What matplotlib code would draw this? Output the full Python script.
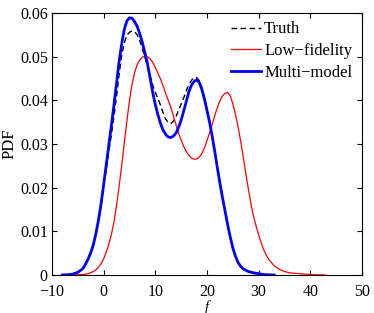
import numpy as np
import matplotlib
matplotlib.use('Agg')
import matplotlib.pyplot as plt

plt.rcParams['font.family'] = ['Liberation Serif', 'DejaVu Serif']

# values, half-unit steps in the busy part
x_truth = [-8, -7, -6, -5, -4, -3.5, -3, -2.5, -2, -1.5, -1, -0.5, 0, 0.5, 1,
           1.5, 2, 2.5, 3, 3.5, 4, 4.5, 5, 5.5, 6, 6.5, 7, 7.5, 8, 8.5, 9,
           9.5, 10, 10.5, 11, 11.5, 12, 12.5, 13, 13.5, 14, 14.5, 15, 15.5,
           16, 16.5, 17, 17.5, 18, 18.5, 19, 19.5, 20, 20.5, 21, 21.5, 22,
           22.5, 23, 23.5, 24, 24.5, 25, 25.5, 26, 26.5, 27, 28, 29, 30, 31, 32]
pdf_truth = [0.0, 0.00005, 0.0002, 0.0006, 0.0015, 0.0025, 0.0037, 0.0051,
             0.0069, 0.0094, 0.0124, 0.0160, 0.0202, 0.0242, 0.0283, 0.0322,
             0.0364, 0.0410, 0.0460, 0.0504, 0.0532, 0.0549, 0.0556, 0.0559,
             0.0557, 0.0550, 0.0536, 0.0518, 0.0498, 0.0478, 0.0456, 0.0435,
             0.0418, 0.0404, 0.0389, 0.0372, 0.0357, 0.0349, 0.0347, 0.0352,
             0.0363, 0.0377, 0.0392, 0.0406, 0.0422, 0.0436, 0.0446, 0.0452,
             0.0452, 0.0445, 0.0430, 0.0406, 0.0378, 0.0350, 0.0318, 0.0283,
             0.0246, 0.0210, 0.0177, 0.0146, 0.0115, 0.0087, 0.0062, 0.0043,
             0.0029, 0.0020, 0.0014, 0.0008, 0.0005, 0.0003, 0.0001, 0.0]

x_low = [-6, -5, -4, -3, -2, -1.5, -1, -0.5, 0, 0.5, 1, 1.5, 2, 2.5, 3, 3.5,
         4, 4.5, 5, 5.5, 6, 6.5, 7, 7.5, 8, 8.5, 9, 9.5, 10, 10.5, 11, 11.5,
         12, 12.5, 13, 13.5, 14, 14.5, 15, 15.5, 16, 16.5, 17, 17.5, 18,
         18.5, 19, 19.5, 20, 20.5, 21, 21.5, 22, 22.5, 23, 23.5, 24, 24.5,
         25, 25.5, 26, 26.5, 27, 27.5, 28, 28.5, 29, 29.5, 30, 30.5, 31,
         31.5, 32, 33, 34, 35, 36, 37, 38, 39, 40, 41, 42, 43]
pdf_low = [0.0, 0.00005, 0.0001, 0.0003, 0.0008, 0.0012, 0.0018, 0.0026,
           0.0037, 0.0052, 0.0071, 0.0093, 0.0122, 0.0159, 0.0204, 0.0252,
           0.0303, 0.0353, 0.0400, 0.0437, 0.0464, 0.0482, 0.0493, 0.0499,
           0.0501, 0.0500, 0.0495, 0.0487, 0.0475, 0.0462, 0.0449, 0.0433,
           0.0416, 0.0400, 0.0384, 0.0364, 0.0344, 0.0325, 0.0309, 0.0294,
           0.0283, 0.0274, 0.0268, 0.0265, 0.0266, 0.0270, 0.0278, 0.0291,
           0.0308, 0.0326, 0.0345, 0.0365, 0.0383, 0.0399, 0.0410, 0.0416,
           0.0418, 0.0410, 0.0392, 0.0368, 0.0340, 0.0307, 0.0271, 0.0233,
           0.0197, 0.0163, 0.0135, 0.0112, 0.0092, 0.0073, 0.0057, 0.0045,
           0.0035, 0.0021, 0.0013, 0.0008, 0.0005, 0.0004, 0.0003, 0.0002,
           0.0001, 0.00005, 0.00002, 0.0]

x_multi = [-8, -7, -6, -5, -4, -3.5, -3, -2.5, -2, -1.5, -1, -0.5, 0, 0.5, 1,
           1.5, 2, 2.5, 3, 3.5, 4, 4.5, 5, 5.5, 6, 6.5, 7, 7.5, 8, 8.5, 9,
           9.5, 10, 10.5, 11, 11.5, 12, 12.5, 13, 13.5, 14, 14.5, 15, 15.5,
           16, 16.5, 17, 17.5, 18, 18.5, 19, 19.5, 20, 20.5, 21, 21.5, 22,
           22.5, 23, 23.5, 24, 24.5, 25, 25.5, 26, 26.5, 27, 28, 29, 30, 31,
           32, 33]
pdf_multi = [0.0, 0.00005, 0.0002, 0.0006, 0.0015, 0.0025, 0.0037, 0.0051,
             0.0069, 0.0095, 0.0126, 0.0163, 0.0207, 0.0252, 0.0297, 0.0343,
             0.0390, 0.0440, 0.0490, 0.0530, 0.0563, 0.0582, 0.0589, 0.0588,
             0.0580, 0.0569, 0.0552, 0.0532, 0.0508, 0.0483, 0.0450, 0.0418,
             0.0390, 0.0367, 0.0347, 0.0332, 0.0322, 0.0316, 0.0315, 0.0318,
             0.0325, 0.0338, 0.0355, 0.0376, 0.0398, 0.0420, 0.0435, 0.0443,
             0.0447, 0.0441, 0.0425, 0.0403, 0.0377, 0.0350, 0.0318, 0.0283,
             0.0246, 0.0210, 0.0177, 0.0146, 0.0115, 0.0087, 0.0062, 0.0043,
             0.0029, 0.0020, 0.0014, 0.0008, 0.0005, 0.0003, 0.0001, 0.00005,
             0.0]

fig = plt.figure(figsize=(3.74, 3.13), dpi=100)
ax = fig.add_axes([0.139, 0.1214, 0.829, 0.837])

ax.plot(x_truth, pdf_truth, color='k', ls=(0, (4, 2.5)), lw=1.0, label='Truth')
ax.plot(x_low, pdf_low, color='r', lw=0.9, label='Low\u2212fidelity')
ax.plot(x_multi, pdf_multi, color='b', lw=2.0, label='Multi\u2212model')

ax.set_xlim(-10, 50)
ax.set_ylim(0, 0.06)
ax.set_xticks(np.arange(-10, 51, 10))
ax.set_yticks([0, 0.01, 0.02, 0.03, 0.04, 0.05, 0.06])
ax.set_yticklabels(['0', '0.01', '0.02', '0.03', '0.04', '0.05', '0.06'])
ax.tick_params(direction='in', top=True, right=True, length=3.5, width=0.8,
               labelsize=11.5)
ax.tick_params(axis='x', pad=6.5)
ax.tick_params(axis='y', pad=3)
ax.set_xlabel('f', fontsize=10.5, style='italic', labelpad=0)
ax.set_ylabel('PDF', fontsize=12, labelpad=2)

leg = ax.legend(loc='upper right', frameon=False, fontsize=12,
                handlelength=1.8, handletextpad=0.2, labelspacing=0.35,
                borderaxespad=0.1, bbox_to_anchor=(0.995, 1.0))

fig.savefig('out.png', dpi=100)
